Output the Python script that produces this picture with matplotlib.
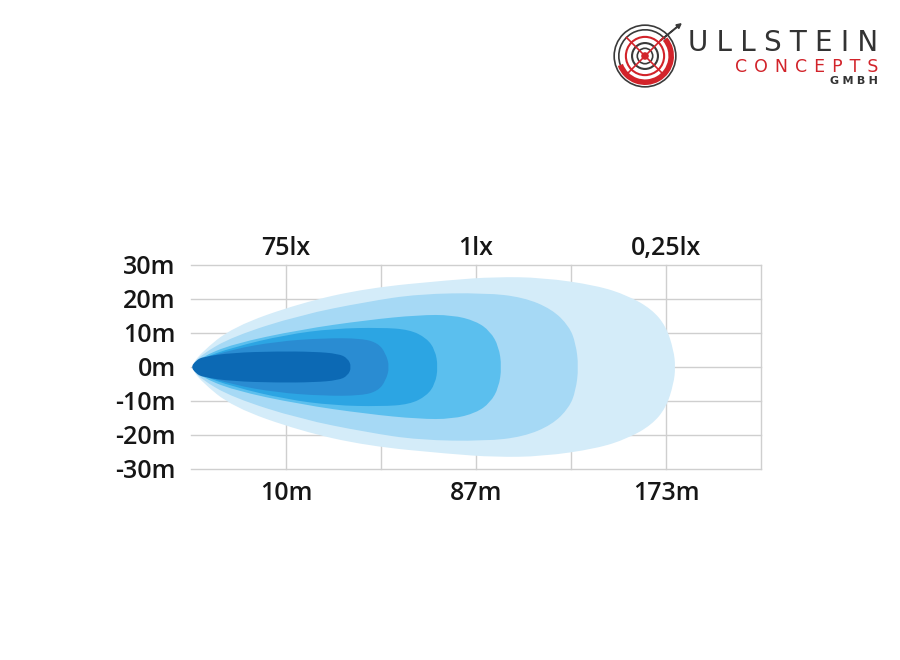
import numpy as np
import matplotlib.pyplot as plt
from matplotlib.path import Path
from matplotlib.patches import PathPatch, Circle, Arc, FancyArrow

# Beam zones: upper outline (distance in grid units, half width in m)
zone1_x = [0, 0.1, 0.44, 1.15, 1.85, 2.73, 3.2, 3.7, 4.27, 4.6, 4.85, 5.0, 5.08, 5.1]
zone1_w = [0, 4.1, 11.8, 18.8, 23.2, 25.6, 26.5, 26.3, 24.0, 21.0, 17.0, 12.0, 5.0, 0]
zone2_x = [0, 0.1, 0.44, 1.15, 1.85, 2.4, 3.1, 3.5, 3.8, 3.98, 4.05, 4.08]
zone2_w = [0, 3.5, 9.0, 15.3, 19.2, 21.5, 21.8, 20.5, 17.0, 12.0, 7.0, 0]
zone3_x = [0, 0.1, 0.44, 1.15, 1.85, 2.4, 2.75, 3.0, 3.15, 3.24, 3.27]
zone3_w = [0, 2.8, 6.8, 11.0, 13.8, 15.3, 15.3, 13.5, 10.5, 6.0, 0]
zone4_x = [0, 0.1, 0.44, 1.0, 1.5, 2.0, 2.3, 2.48, 2.57, 2.6]
zone4_w = [0, 2.4, 5.8, 9.5, 11.3, 11.6, 11.0, 8.5, 5.0, 0]
zone5_x = [0, 0.1, 0.44, 0.9, 1.4, 1.8, 1.97, 2.05, 2.09]
zone5_w = [0, 2.2, 5.2, 7.5, 8.5, 8.4, 7.0, 4.0, 0]
zone6_x = [0, 0.05, 0.12, 0.44, 0.9, 1.3, 1.55, 1.65, 1.69]
zone6_w = [0, 1.8, 3.0, 4.2, 4.6, 4.5, 3.9, 2.6, 0]

zones_x = [zone1_x, zone2_x, zone3_x, zone4_x, zone5_x, zone6_x]
zones_w = [zone1_w, zone2_w, zone3_w, zone4_w, zone5_w, zone6_w]
zone_colors = ['#d4ecf9', '#a6d9f5', '#5bbfee', '#2ca5e3', '#2a8cd2', '#0c69b4']

y_ticks = [30, 20, 10, 0, -10, -20, -30]
y_labels = ['30m', '20m', '10m', '0m', '-10m', '-20m', '-30m']
x_grid = [1, 2, 3, 4, 5, 6]
bottom_labels = ['10m', '', '87m', '', '173m', '']
top_labels = ['75lx', '', '1lx', '', '0,25lx', '']


def smooth_patch(xs, ws, color):
    # closed outline: upper half then mirrored lower half
    pts = list(zip(xs, ws)) + list(zip(xs[::-1][1:-1], [-w for w in ws[::-1][1:-1]]))
    pts = np.array(pts)
    n = len(pts)
    mids = (pts + np.roll(pts, -1, axis=0)) / 2
    verts = [mids[-1]]
    codes = [Path.MOVETO]
    for i in range(n):
        verts += [pts[i], mids[i]]
        codes += [Path.CURVE3, Path.CURVE3]
    return PathPatch(Path(verts, codes), facecolor=color, edgecolor='none', zorder=2)


plt.rcParams['font.family'] = ['Open Sans', 'DejaVu Sans']
txt_col = '#161616'

fig = plt.figure(figsize=(9, 6.6), dpi=100)
ax = fig.add_axes([191 / 900, 1 - 469 / 660, 570 / 900, 204 / 660])

for xs, ws, c in zip(zones_x, zones_w, zone_colors):
    ax.add_patch(smooth_patch(xs, ws, c))

ax.set_xlim(0, 6)
ax.set_ylim(-30, 30)
ax.set_yticks(y_ticks)
ax.set_yticklabels(y_labels)
ax.set_xticks(x_grid)
ax.set_xticklabels(bottom_labels)
for s in ax.spines.values():
    s.set_visible(False)
ax.grid(True, color='#cfcfcf', lw=1, zorder=0)
ax.set_axisbelow(True)
for gl in ax.get_ygridlines() + ax.get_xgridlines():
    gl.set_clip_on(False)
ax.tick_params(axis='y', length=0, pad=11, labelsize=18, labelcolor=txt_col)
ax.tick_params(axis='x', length=0, pad=9, labelsize=18, labelcolor=txt_col)
for lab in ax.get_yticklabels() + ax.get_xticklabels():
    lab.set_fontweight('semibold')

top = ax.secondary_xaxis('top')
top.set_xticks(x_grid)
top.set_xticklabels(top_labels)
top.tick_params(length=0, pad=3, labelsize=18, labelcolor=txt_col)
for s in top.spines.values():
    s.set_visible(False)
for lab in top.get_xticklabels():
    lab.set_fontweight('semibold')

# logo
lax = fig.add_axes([(645 - 37) / 900, 1 - (56 + 37) / 660, 74 / 900, 74 / 660])
lax.set_xlim(-1.2, 1.2)
lax.set_ylim(-1.2, 1.2)
lax.set_aspect('equal')
lax.axis('off')
red = '#d2232a'
grey = '#3a3a3a'
lax.add_patch(Circle((0, 0), 1.0, fill=False, ec=grey, lw=1.2))
lax.add_patch(Arc((0, 0), 1.7, 1.7, theta1=-160, theta2=40, color=red, lw=4))
lax.add_patch(Arc((0, 0), 1.7, 1.7, theta1=40, theta2=200, color=grey, lw=1.2))
lax.add_patch(Circle((0, 0), 0.62, fill=False, ec=red, lw=1.5))
lax.add_patch(Circle((0, 0), 0.42, fill=False, ec=grey, lw=1.5))
lax.add_patch(Circle((0, 0), 0.25, fill=False, ec=grey, lw=1.2))
lax.add_patch(Circle((0, 0), 0.1, color=red))
lax.plot([-0.6, 0.6], [0.6, -0.6], color=red, lw=1.2)
lax.plot([-0.6, 0.6], [-0.6, 0.6], color=red, lw=1.2)
lax.add_patch(FancyArrow(0.5, 0.5, 0.55, 0.45, width=0.02, head_width=0.15,
                         head_length=0.15, color=grey))

fig.text(878 / 900, 1 - 43 / 660, '\u2009\u200a'.join('ULLSTEIN'), ha='right', va='center',
         fontsize=20, color='#333333', family='DejaVu Sans')
fig.text(878 / 900, 1 - 67 / 660, '\u2009\u200a\u200a'.join('CONCEPTS'), ha='right', va='center',
         fontsize=12.5, color=red, family='DejaVu Sans')
fig.text(878 / 900, 1 - 81 / 660, '\u2009\u200a'.join('GMBH'), ha='right', va='center',
         fontsize=8, color='#333333', family='DejaVu Sans', fontweight='bold')

fig.savefig('out.png', dpi=100)
